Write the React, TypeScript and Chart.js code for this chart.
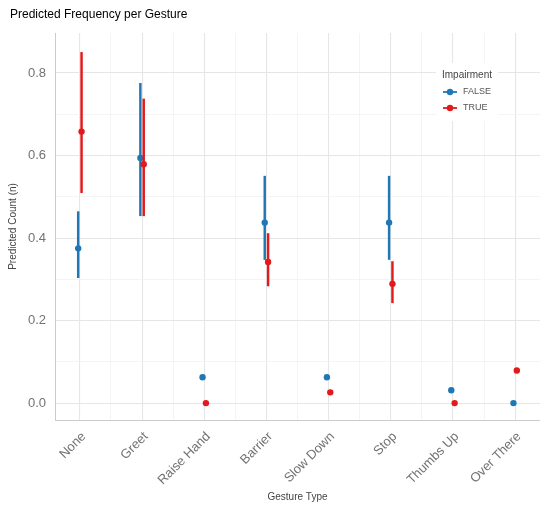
import React, { useEffect, useRef } from 'react';
import { Chart, registerables } from 'chart.js';

Chart.register(...registerables);

// categories and series
const gestures = ['None', 'Greet', 'Raise Hand', 'Barrier', 'Slow Down', 'Stop', 'Thumbs Up', 'Over There'];
const groups = ['FALSE', 'TRUE'];
const groupColors = ['#1F78B4', '#E31A1C'];

const falseCount = [0.375, 0.594, 0.0625, 0.4375, 0.0625, 0.4375, 0.031, 0];
const falseLow = [0.304, 0.454, null, 0.348, null, 0.348, null, null];
const falseHigh = [0.464, 0.775, null, 0.55, null, 0.55, null, null];

const trueCount = [0.658, 0.579, 0, 0.342, 0.026, 0.289, 0, 0.079];
const trueLow = [0.51, 0.454, null, 0.284, null, 0.243, null, null];
const trueHigh = [0.85, 0.737, null, 0.411, null, 0.343, null, null];

const yTickValues = [0, 0.1, 0.2, 0.3, 0.4, 0.5, 0.6, 0.7, 0.8];

const DODGE = 0.027;
const FONT = "'Liberation Sans', Arial, sans-serif";

const points = (vals: number[], shift: number) =>
  vals.map((v, i) => ({ x: i + shift, y: v }));

const ranges = (lo: (number | null)[], hi: (number | null)[], shift: number) =>
  lo
    .map((l, i) => (l === null || hi[i] === null ? null : { x: i + shift, y: [l, hi[i]] }))
    .filter((d) => d !== null);

// title + legend drawn like ggplot
const ggExtras = {
  id: 'ggExtras',
  afterDraw(chart: any) {
    const ctx = chart.ctx;
    const area = chart.chartArea;
    ctx.save();
    ctx.fillStyle = '#000';
    ctx.font = `12px ${FONT}`;
    ctx.textBaseline = 'middle';
    ctx.textAlign = 'left';
    ctx.fillText('Predicted Frequency per Gesture', 10, 15);

    const lx = area.right - 104;
    const ly = area.top + 30;
    ctx.fillStyle = '#ffffff';
    ctx.fillRect(lx, ly, 62, 58);
    ctx.fillStyle = '#444';
    ctx.font = `10px ${FONT}`;
    ctx.fillText('Impairment', lx + 6, ly + 12);
    groups.forEach((g, i) => {
      const y = ly + 29 + i * 16;
      ctx.strokeStyle = groupColors[i];
      ctx.lineWidth = 1.8;
      ctx.beginPath();
      ctx.moveTo(lx + 7, y);
      ctx.lineTo(lx + 21, y);
      ctx.stroke();
      ctx.fillStyle = groupColors[i];
      ctx.beginPath();
      ctx.arc(lx + 14, y, 3.2, 0, Math.PI * 2);
      ctx.fill();
      ctx.fillStyle = '#555';
      ctx.font = `9px ${FONT}`;
      ctx.fillText(g, lx + 27, y);
    });
    ctx.restore();
  },
};

const GestureChart: React.FC = () => {
  const chartRef = useRef<HTMLCanvasElement | null>(null);

  useEffect(() => {
    document.body.style.margin = '0';
    let chartInstance: Chart | null = null;

    if (chartRef.current) {
      const ctx = chartRef.current.getContext('2d');
      if (ctx) {
        const xTicks: number[] = [];
        for (let i = 0; i < gestures.length; i++) {
          xTicks.push(i);
          if (i < gestures.length - 1) xTicks.push(i + 0.5);
        }

        chartInstance = new Chart(ctx, {
          type: 'scatter',
          data: {
            datasets: [
              {
                type: 'bar',
                label: 'FALSE range',
                data: ranges(falseLow, falseHigh, -DODGE) as any,
                backgroundColor: groupColors[0],
                barThickness: 1.8,
                grouped: false,
                order: 4,
              },
              {
                type: 'scatter',
                label: groups[0],
                data: points(falseCount, -DODGE),
                backgroundColor: groupColors[0],
                pointRadius: 3.2,
                borderWidth: 0,
                order: 3,
              },
              {
                type: 'bar',
                label: 'TRUE range',
                data: ranges(trueLow, trueHigh, DODGE) as any,
                backgroundColor: groupColors[1],
                barThickness: 1.8,
                grouped: false,
                order: 2,
              },
              {
                type: 'scatter',
                label: groups[1],
                data: points(trueCount, DODGE),
                backgroundColor: groupColors[1],
                pointRadius: 3.2,
                borderWidth: 0,
                order: 1,
              },
            ] as any,
          },
          options: {
            responsive: false,
            animation: false,
            layout: { padding: { top: 33, right: 10, left: 0, bottom: 0 } },
            plugins: {
              legend: { display: false },
              tooltip: { enabled: false },
              title: { display: false },
            },
            scales: {
              x: {
                type: 'linear',
                min: -0.4,
                max: 7.4,
                offset: false,
                afterBuildTicks: (s: any) => {
                  s.ticks = xTicks.map((v) => ({ value: v }));
                },
                afterFit: (s: any) => {
                  s.height = 90;
                },
                grid: {
                  offset: false,
                  drawTicks: false,
                  color: (c: any) => (Number.isInteger(c.tick?.value) ? '#e6e6e6' : '#f1f1f1'),
                  lineWidth: (c: any) => (Number.isInteger(c.tick?.value) ? 1.1 : 0.8),
                },
                border: { display: true, color: '#cccccc', width: 1 },
                ticks: {
                  autoSkip: false,
                  minRotation: 45,
                  maxRotation: 45,
                  padding: 9,
                  labelOffset: 4,
                  color: '#737373',
                  font: { family: FONT, size: 13 },
                  callback: (v: any) => (Number.isInteger(v) ? gestures[v] : ''),
                },
                title: {
                  display: true,
                  text: 'Gesture Type',
                  color: '#444',
                  font: { family: FONT, size: 10 },
                  padding: { top: 0, bottom: 7 },
                },
              },
              y: {
                type: 'linear',
                min: -0.041,
                max: 0.897,
                afterBuildTicks: (s: any) => {
                  s.ticks = yTickValues.map((v) => ({ value: v }));
                },
                afterFit: (s: any) => {
                  s.width = 55;
                },
                grid: {
                  drawTicks: false,
                  color: (c: any) => (c.index % 2 === 0 ? '#e6e6e6' : '#f1f1f1'),
                  lineWidth: (c: any) => (c.index % 2 === 0 ? 1.1 : 0.8),
                },
                border: { display: true, color: '#cccccc', width: 1 },
                ticks: {
                  padding: 9,
                  color: '#737373',
                  font: { family: FONT, size: 13 },
                  callback: (v: any, i: number) => (i % 2 === 0 ? Number(v).toFixed(1) : ''),
                },
                title: {
                  display: true,
                  text: 'Predicted Count (n)',
                  color: '#444',
                  font: { family: FONT, size: 10 },
                  padding: { top: 7, bottom: 0 },
                },
              },
            },
          },
          plugins: [ggExtras],
        });
      }
    }

    return () => {
      if (chartInstance) {
        chartInstance.destroy();
      }
    };
  }, []);

  return (
    <div style={{ width: '550px', height: '510px' }}>
      <canvas ref={chartRef} width={550} height={510}></canvas>
    </div>
  );
};

export default function App() {
  return <GestureChart />;
}
